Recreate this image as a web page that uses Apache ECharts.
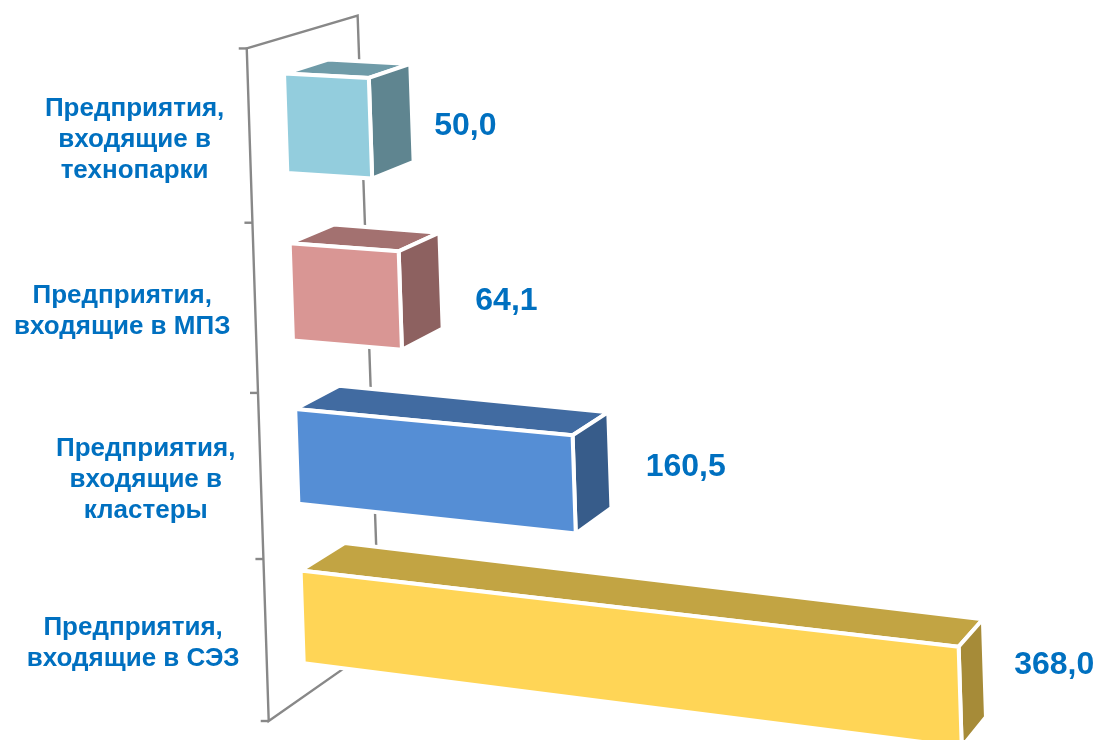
<!DOCTYPE html>
<html>
<head>
<meta charset="utf-8">
<style>html,body{margin:0;padding:0;background:#fff}#c{width:1096px;height:740px}</style>
<script src="https://cdn.jsdelivr.net/npm/echarts@6/dist/echarts.min.js"></script>
</head>
<body>
<div id="c"></div>
<script>
const categories = [
  "Предприятия,\nвходящие в\nтехнопарки",
  "Предприятия,\nвходящие в МПЗ",
  "Предприятия,\nвходящие в\nкластеры",
  "Предприятия,\nвходящие в СЭЗ"
];
const values = [50.0, 64.1, 160.5, 368.0];
const valueLabels = ["50,0", "64,1", "160,5", "368,0"];
const frontColors = ["#93CDDD", "#D99694", "#558ED5", "#FFD556"];
const topColors = ["#6F9BA8", "#A37170", "#416BA1", "#C2A443"];
const sideColors = ["#5F8590", "#8D6160", "#375C8A", "#A68B38"];
const categoryShift = [-115, -133, -115, -133];
const categoryRise = [4, 3, 3, 3];
const valueShift = [[63.7, -2], [75, 0], [71.5, -17], [54, -32]];

const textColor = "#0070C0";
const axisColor = "#888888";
const barRatio = 0.584;
const wallFront = -0.82, wallBack = 1.7;

const chart = echarts.init(document.getElementById("c"), null, { renderer: "canvas" });

// Perspective view of the flat cartesian plane: u is the pixel distance along the
// value axis, v the pixel position on the category axis, w the depth in box units.
function project(originX, u, v, w) {
  const y0 = v + 7.4e-5 * (v - 123.5) * (617 - v);
  const xLeft = originX + 0.0334 * (y0 - 73);
  const slope = 0.052 + 0.000128 * (y0 - 73);
  const run = u * (1 - 0.0389 + 9.42e-5 * u);
  const dx = 44 - 0.03 * run;
  const dy = -(14 + 0.027 * (y0 - 73));
  return [xLeft + run + dx * w, y0 + slope * run + dy * w];
}

function renderWall(params, api) {
  const base = api.coord([0, 0]);
  const band = api.size([0, 1])[1];
  const ox = base[0];
  const top = base[1] - band / 2;
  const pt = (i, w) => project(ox, 0, top + band * i, w);
  const line = pts => ({
    type: "polyline",
    shape: { points: pts },
    style: { fill: null, stroke: axisColor, lineWidth: 2.4, lineJoin: "miter" }
  });
  const n = categories.length;
  const children = [
    line([pt(n, wallBack), pt(n, wallFront), pt(0, wallFront), pt(0, wallBack), pt(n, wallBack)])
  ];
  for (let i = 0; i <= n; i++) {
    const p = pt(i, wallFront);
    children.push(line([[p[0] - 8, p[1]], p]));
  }
  return { type: "group", children };
}

function renderBar(params, api) {
  const i = params.dataIndex;
  const val = api.value(0);
  const end = api.coord([val, i]);
  const zero = api.coord([0, i]);
  const h = api.size([0, 1])[1] * barRatio;
  const ox = zero[0], cy = zero[1], u = end[0] - zero[0];
  const t = cy - h / 2, b = cy + h / 2;
  const face = (points, fill) => ({
    type: "polygon",
    shape: { points },
    style: { fill, stroke: "#fff", lineWidth: 4, lineJoin: "miter" }
  });
  const tl = project(ox, 0, t, 0), tr = project(ox, u, t, 0);
  const bl = project(ox, 0, b, 0), br = project(ox, u, b, 0);
  const tlb = project(ox, 0, t, 1), trb = project(ox, u, t, 1), brb = project(ox, u, b, 1);
  const catAnchor = project(ox, 0, cy, wallFront);
  const valAnchor = project(ox, u, cy, 0);
  return {
    type: "group",
    children: [
      face([tl, tr, trb, tlb], topColors[i]),
      face([tr, br, brb, trb], sideColors[i]),
      face([tl, tr, br, bl], frontColors[i]),
      {
        type: "text",
        style: {
          x: catAnchor[0] + categoryShift[i], y: catAnchor[1] + categoryRise[i],
          text: categories[i], fill: textColor, align: "center", verticalAlign: "middle",
          font: "bold 26px 'Liberation Sans'", lineHeight: 31
        }
      },
      {
        type: "text",
        style: {
          x: valAnchor[0] + valueShift[i][0], y: valAnchor[1] + valueShift[i][1],
          text: valueLabels[i], fill: textColor, align: "left", verticalAlign: "middle",
          font: "bold 32px 'Liberation Sans'"
        }
      }
    ]
  };
}

chart.setOption({
  animation: false,
  backgroundColor: "#fff",
  grid: { left: 284, width: 700, top: 41.25, height: 658 },
  xAxis: { type: "value", min: 0, max: 400, interval: 100, show: false },
  yAxis: { type: "category", data: categories, inverse: true, show: false },
  series: [
    { type: "custom", silent: true, clip: false, z: 1, renderItem: renderWall,
      encode: { x: 0, y: 1 }, data: [[0, 0]] },
    { type: "custom", silent: true, clip: false, z: 2, renderItem: renderBar,
      encode: { x: 0, y: 1 }, data: values.map((v, i) => [v, i]) }
  ]
});
</script>
</body>
</html>
